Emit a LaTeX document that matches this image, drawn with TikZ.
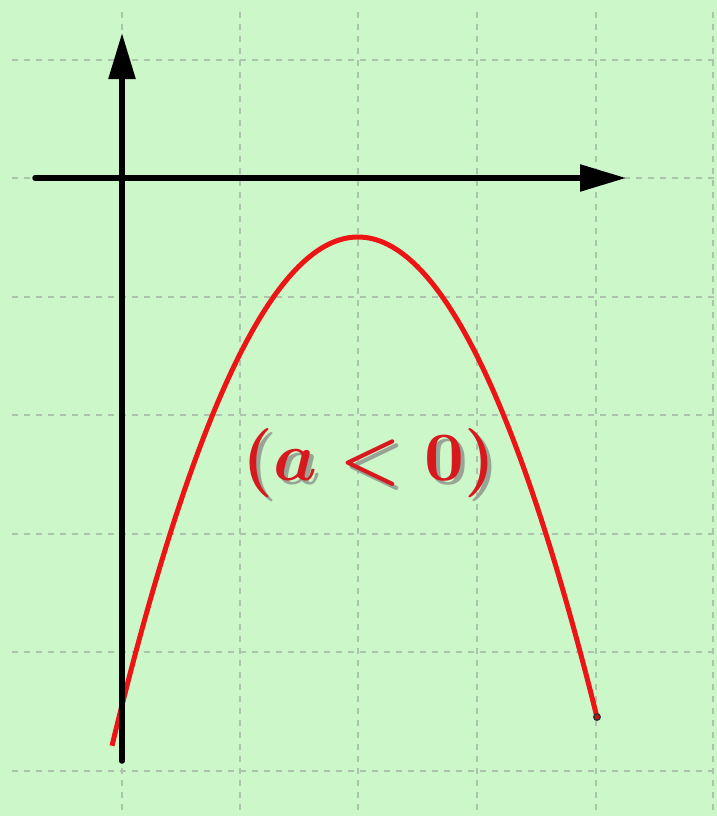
\documentclass[tikz,border=0pt]{standalone}
\usepackage{amsmath}
\usepackage{graphicx}
\usetikzlibrary{arrows.meta}
\definecolor{bggreen}{RGB}{204,247,200}
\definecolor{gridgray}{RGB}{172,196,172}
\definecolor{curvered}{RGB}{236,20,20}
\definecolor{textred}{RGB}{215,25,30}
\definecolor{shadowgray}{RGB}{150,165,150}
\newcommand{\alabel}{\resizebox{252pt}{!}{$\boldsymbol{(a<0)}$}}
\newcommand{\shadowlabel}{\makebox[0pt][l]{\hspace{4pt}\raisebox{-4pt}{\color{shadowgray}\alabel}}\alabel}
\tikzset{
  gridline/.style={draw=gridgray, line width=1.1pt, dash pattern=on 6pt off 6pt},
  axisline/.style={draw=black, line width=5.5pt, line cap=round,
    -{Triangle[length=46pt,width=26pt]}},
  curveline/.style={draw=curvered, line width=5pt},
  lbl/.style={inner sep=0pt, text=textred}
}
\begin{document}
\begin{tikzpicture}[x=1pt,y=-1pt]
\useasboundingbox (0,0) rectangle (717,816);
\fill[bggreen] (0,0) rectangle (717,816);
% grid
\foreach \gx in {122,240,358,477,596,713} {
  \draw[gridline] (\gx,12) -- (\gx,816);
}
\foreach \gy in {60,178,297,415,534,652,771} {
  \draw[gridline] (12,\gy) -- (717,\gy);
}
% parabola
\draw[curveline, domain=112:597, samples=120, smooth]
  plot (\x, {237 + 0.0084*(\x-358)*(\x-358)});
\coordinate (endpt) at (597,717);
\fill[black!80] (endpt) circle (4pt);
\fill[curvered!85!black] (endpt) circle (2.2pt);
% axes
\coordinate (xs) at (35,178);
\coordinate (xe) at (626,178);
\coordinate (ys) at (122,761);
\coordinate (ye) at (122,33);
\draw[axisline] (xs) -- (xe);
\draw[axisline] (ys) -- (ye);
% label with drop shadow
\node[lbl] (lbl) at (369,465) {\shadowlabel};
\end{tikzpicture}
\end{document}
